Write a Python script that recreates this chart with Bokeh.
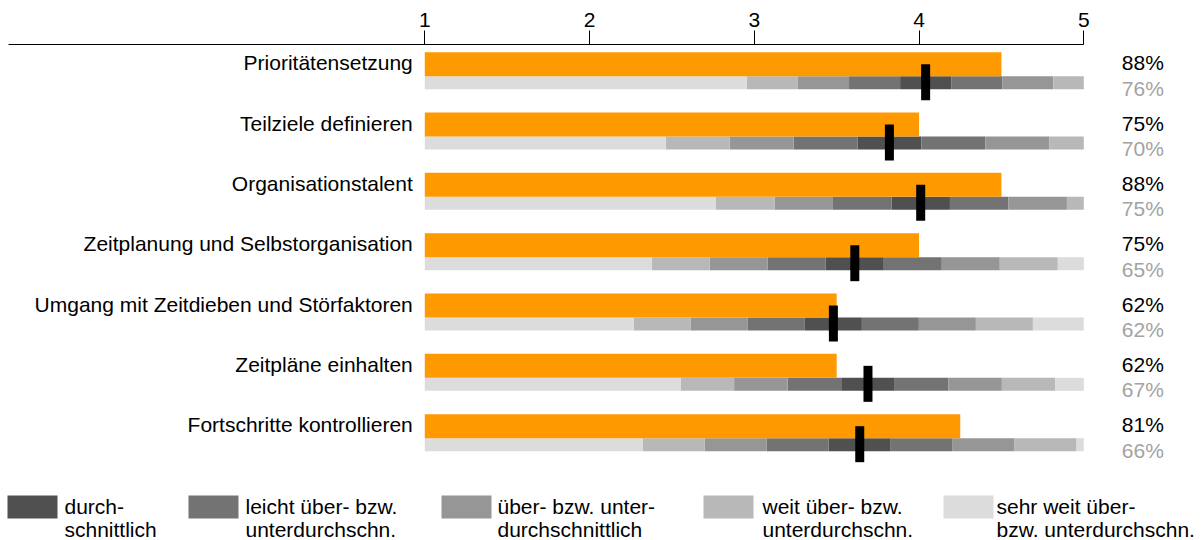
from bokeh.plotting import figure
from bokeh.models import Range1d, FixedTicker, ColumnDataSource
from bokeh.core.properties import value
from bokeh.embed import file_html
from bokeh.resources import INLINE

# ---------------- data ----------------
categories = [
    "Prioritätensetzung",
    "Teilziele definieren",
    "Organisationstalent",
    "Zeitplanung und Selbstorganisation",
    "Umgang mit Zeitdieben und Störfaktoren",
    "Zeitpläne einhalten",
    "Fortschritte kontrollieren",
]
own_scores = [4.5, 4.0, 4.5, 4.0, 3.5, 3.5, 4.25]
own_pct = ["88%", "75%", "88%", "75%", "62%", "62%", "81%"]
group_mean = [4.04, 3.82, 4.01, 3.61, 3.48, 3.69, 3.64]
group_pct = ["76%", "70%", "75%", "65%", "62%", "67%", "66%"]
band_width = [0.31, 0.388, 0.355, 0.352, 0.346, 0.325, 0.376]
tick_values = [1, 2, 3, 4, 5]
legend_line1 = ["durch-", "leicht über- bzw.", "über- bzw. unter-", "weit über- bzw.", "sehr weit über-"]
legend_line2 = ["schnittlich", "unterdurchschn.", "durchschnittlich", "unterdurchschn.", "bzw. unterdurchschn."]

# ---------------- styling / layout ----------------
FONT = "Liberation Sans"
FS = "21px"
ORANGE = "#ff9900"
GREYS = ["#505050", "#737373", "#969696", "#b8b8b8", "#dcdcdc"]
SCALE_MIN, SCALE_MAX = 1, 5

W = 1202
PX = 164.75              # pixels per scale unit
X0_PX = 424.3            # canvas px of value 1
x_left = SCALE_MIN - X0_PX / PX
x_right = x_left + W / PX

TOP, BOTTOM = 44, 540    # canvas-pixel y of frame top/bottom
ROW0, PITCH = 51.7, 60.33

SWATCH_PX = [7, 188, 441, 703, 943]
LEGEND_TEXT_PX = [64, 245, 497, 762, 996]


def px_to_x(px):
    return x_left + px / PX


p = figure(frame_width=W, frame_height=BOTTOM - TOP,
           x_range=Range1d(x_left, x_right), y_range=Range1d(BOTTOM, TOP),
           output_backend="svg", toolbar_location=None,
           x_axis_location="above", y_axis_location=None,
           min_border=0, min_border_top=TOP)
p.outline_line_color = None
p.grid.visible = False
ax = p.xaxis[0]
ax.ticker = FixedTicker(ticks=tick_values)
ax.bounds = (px_to_x(8), SCALE_MAX)
ax.major_tick_in = 0
ax.major_tick_out = 14
ax.minor_tick_in = 0
ax.minor_tick_out = 0
ax.axis_line_color = "black"
ax.major_tick_line_color = "black"
ax.major_label_text_font = FONT
ax.major_label_text_font_size = FS
ax.major_label_text_color = "black"
ax.major_label_standoff = 4

# ---------------- rows ----------------
n = len(categories)
row_top = [ROW0 + i * PITCH for i in range(n)]

# grey bands
seg = dict(left=[], right=[], top=[], bottom=[], color=[])
for i in range(n):
    m, w, t = group_mean[i], band_width[i], row_top[i]
    pieces = [(m - w / 2, m + w / 2, 0)]
    for k in range(1, 4):
        pieces.append((m - (k + .5) * w, m - (k - .5) * w, k))
        pieces.append((m + (k - .5) * w, m + (k + .5) * w, k))
    pieces.append((SCALE_MIN, m - 3.5 * w, 4))
    pieces.append((m + 3.5 * w, SCALE_MAX, 4))
    for a, b, k in pieces:
        a, b = max(a, SCALE_MIN), min(b, SCALE_MAX)
        if b <= a:
            continue
        seg["left"].append(a)
        seg["right"].append(b)
        seg["top"].append(t + 24)
        seg["bottom"].append(t + 37)
        seg["color"].append(GREYS[k])
p.quad(source=ColumnDataSource(seg), left="left", right="right", top="top",
       bottom="bottom", fill_color="color", line_color=None)

# orange bars
p.quad(left=[SCALE_MIN] * n, right=own_scores,
       top=row_top, bottom=[t + 24 for t in row_top],
       fill_color=ORANGE, line_color=None)

# mean markers
half = 4.5 / PX
p.quad(left=[m - half for m in group_mean], right=[m + half for m in group_mean],
       top=[t + 12 for t in row_top], bottom=[t + 48 for t in row_top],
       fill_color="black", line_color=None)

# category labels
p.text(x=[SCALE_MIN] * n, y=[t + 10.5 for t in row_top], text=categories,
       x_offset=-12, text_align="right", text_baseline="middle",
       text_font=value(FONT), text_font_size=FS, text_color="black")

# percentages
p.text(x=[SCALE_MAX] * n, y=[t + 10.5 for t in row_top], text=own_pct,
       x_offset=38, text_align="left", text_baseline="middle",
       text_font=value(FONT), text_font_size=FS, text_color="black")
p.text(x=[SCALE_MAX] * n, y=[t + 36 for t in row_top], text=group_pct,
       x_offset=38, text_align="left", text_baseline="middle",
       text_font=value(FONT), text_font_size=FS, text_color="#a3a3a3")

# ---------------- legend ----------------
p.quad(left=[px_to_x(s) for s in SWATCH_PX], right=[px_to_x(s + 50) for s in SWATCH_PX],
       top=[495] * 5, bottom=[518] * 5, fill_color=GREYS, line_color=None)
p.text(x=[px_to_x(s) for s in LEGEND_TEXT_PX], y=[506] * 5, text=legend_line1,
       text_align="left", text_baseline="middle",
       text_font=value(FONT), text_font_size=FS, text_color="black")
p.text(x=[px_to_x(s) for s in LEGEND_TEXT_PX], y=[528.5] * 5, text=legend_line2,
       text_align="left", text_baseline="middle",
       text_font=value(FONT), text_font_size=FS, text_color="black")

open("out.html", "w").write(file_html(p, INLINE))
